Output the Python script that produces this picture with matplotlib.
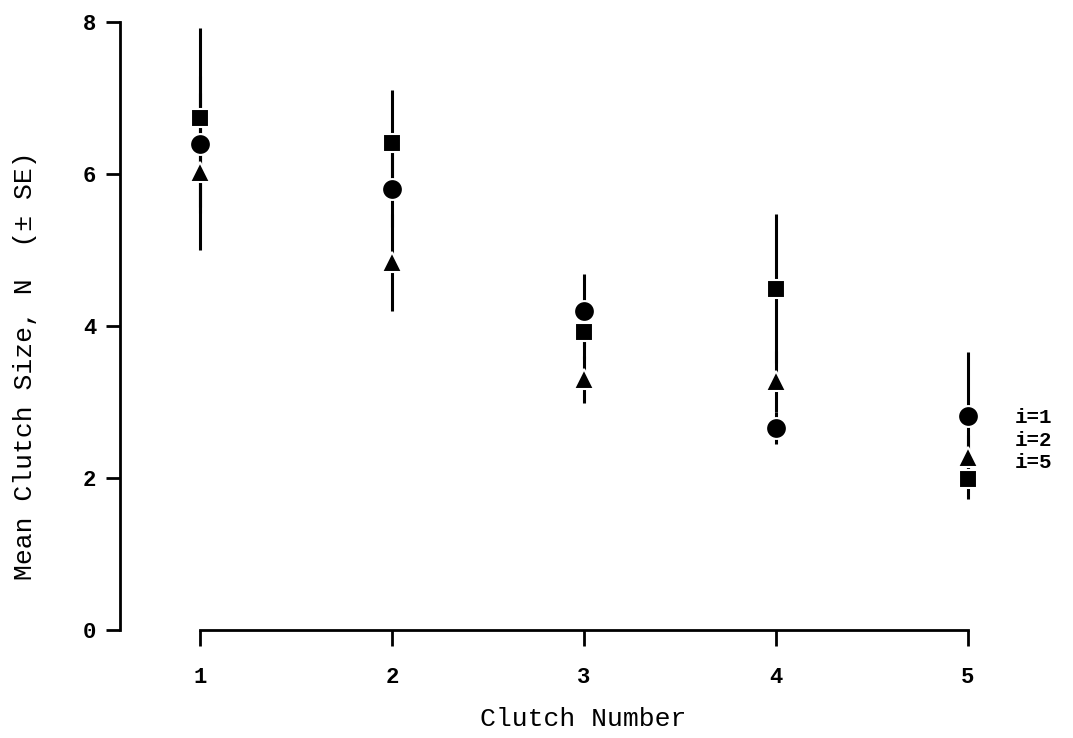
import matplotlib
matplotlib.use("Agg")
import matplotlib.pyplot as plt

# Veriler
clutch = [1, 2, 3, 4, 5]
mean_i1 = [6.39, 5.80, 4.20, 2.66, 2.81]   # daire
se_i1 = [0.90, 0.50, 0.48, 0.21, 0.85]
mean_i2 = [6.03, 4.84, 3.30, 3.27, 2.27]   # üçgen
se_i2 = [1.03, 0.64, 0.31, 0.40, 0.30]
mean_i5 = [6.74, 6.41, 3.92, 4.49, 1.99]   # kare
se_i5 = [1.18, 0.70, 0.35, 0.98, 0.26]
series_labels = ["i=1", "i=2", "i=5"]
y_ticks = [0, 2, 4, 6, 8]

plt.rcParams["font.family"] = ["Liberation Mono", "DejaVu Sans Mono"]
plt.rcParams["font.weight"] = "bold"

fig = plt.figure(figsize=(10.73, 7.38), dpi=100)
ax = fig.add_axes([120 / 1073, 108 / 738, 953 / 1073, 608 / 738])

series = [(mean_i1, se_i1, "o", 15), (mean_i2, se_i2, "^", 14), (mean_i5, se_i5, "s", 13)]

# Hata çubukları önce
for means, ses, _, _ in series:
    ax.errorbar(clutch, means, yerr=ses, fmt="none", ecolor="black",
                elinewidth=2.2, capsize=0, clip_on=False, zorder=2)

# Sonra işaretler
for means, ses, marker, ms in series:
    ax.plot(clutch, means, linestyle="none", marker=marker, markersize=ms,
            color="black", markeredgecolor="white", markeredgewidth=1.5,
            clip_on=False, zorder=3)

# Seri etiketleri (5. kümenin sağında)
for label, ypos in zip(series_labels, [2.79, 2.50, 2.21]):
    ax.text(5.245, ypos, label, fontsize=15, va="center", ha="left")

ax.set_xlim(0.583, 5.547)
ax.set_ylim(0, 8)

for side in ["top", "right"]:
    ax.spines[side].set_visible(False)
ax.spines["left"].set_bounds(0, 8)
ax.spines["bottom"].set_bounds(1, 5)
ax.spines["left"].set_linewidth(2)
ax.spines["bottom"].set_linewidth(2)

ax.set_xticks(clutch)
ax.set_yticks(y_ticks)
ax.tick_params(axis="y", direction="out", length=10, width=2, labelsize=16, pad=7)
ax.tick_params(axis="x", direction="out", length=11.5, width=2, labelsize=16, pad=15)

ax.set_xlabel("Clutch Number", fontsize=19, va="baseline")
ax.xaxis.set_label_coords(0.486, -0.158)
ax.set_ylabel("Mean Clutch Size, N  (\u00b1 SE)", fontsize=19)
ax.yaxis.set_label_coords(-0.087, 0.434)

fig.savefig("out.png", dpi=100)
plt.close(fig)
